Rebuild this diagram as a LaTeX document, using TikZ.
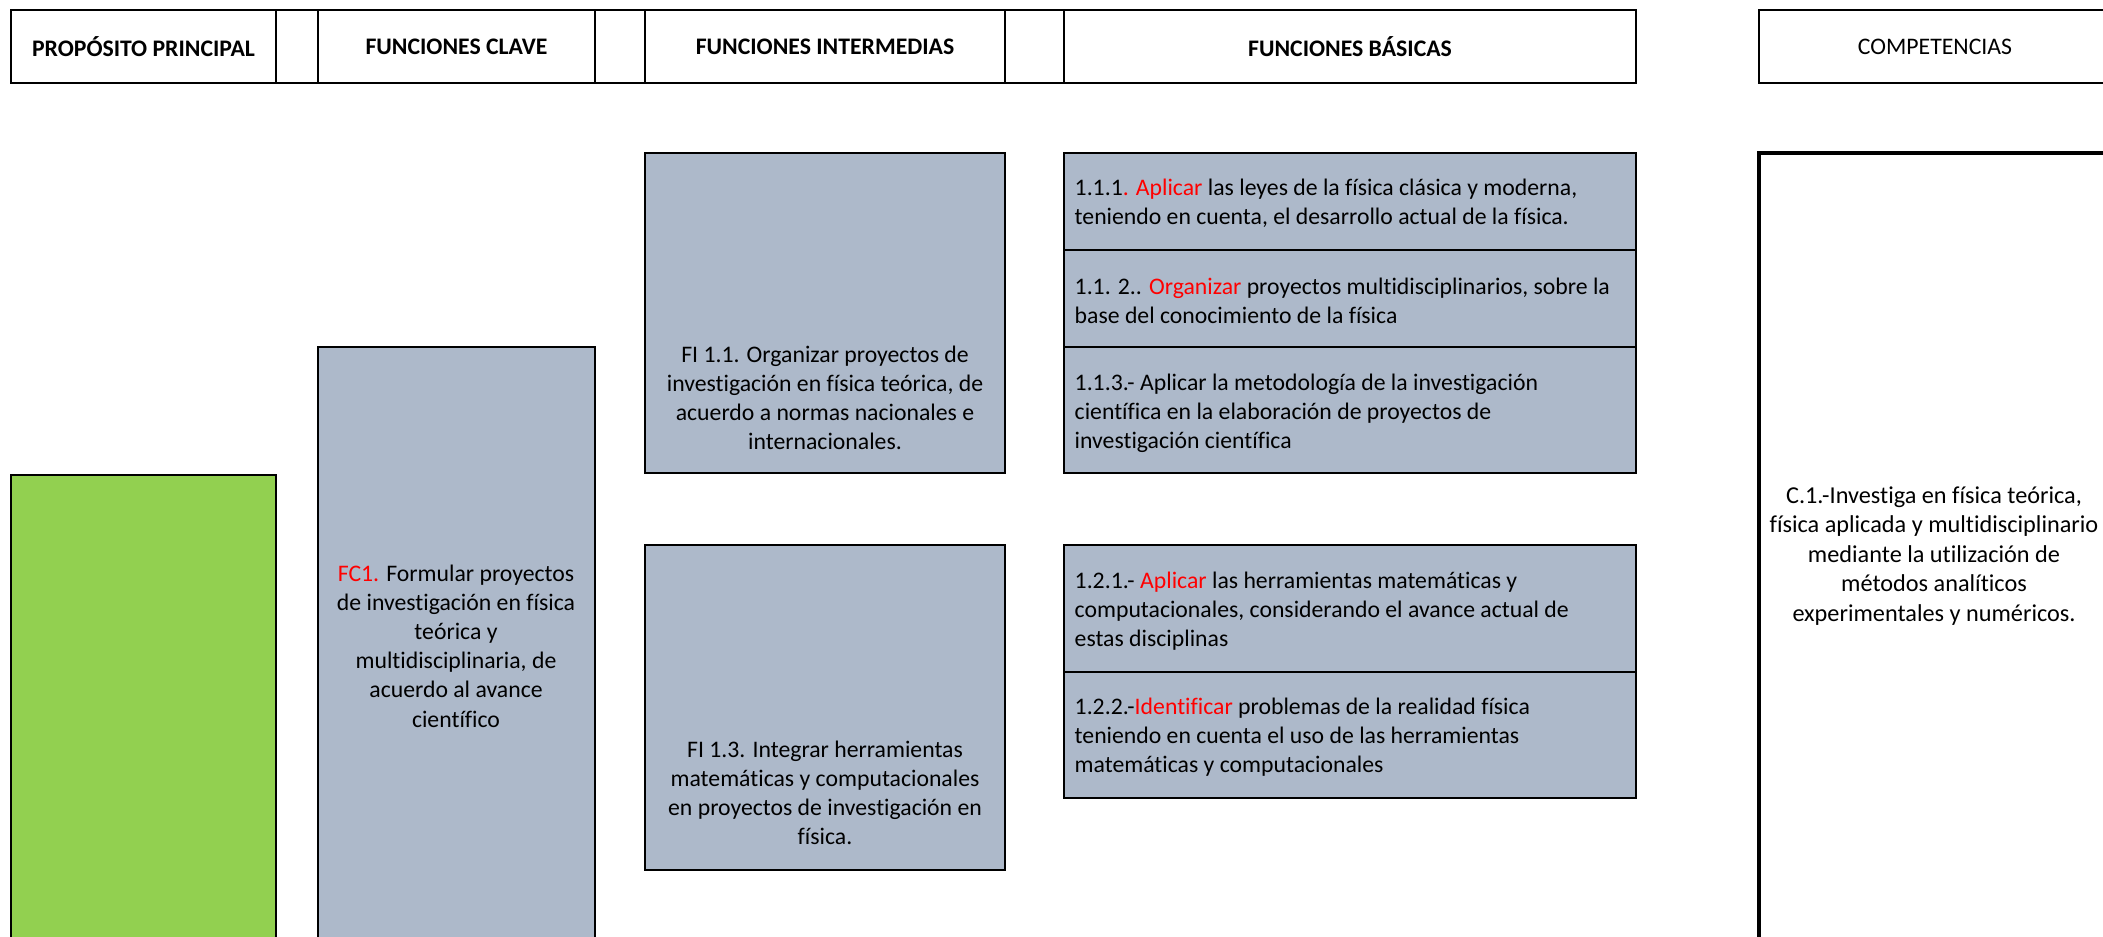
\documentclass[tikz,border=0pt]{standalone}
\usepackage{fontspec}
\setmainfont{Carlito}[Ligatures=NoCommon]
\usetikzlibrary{fit}
\definecolor{azulgris}{HTML}{ADB9CA}
\definecolor{verde}{HTML}{92D050}
\newcommand{\rj}[1]{\textcolor{red}{#1}}
\tikzset{
  celda/.style={draw,line width=0.8pt,inner sep=0pt,outer sep=0pt},
  fina/.style={celda,line width=0.45pt},
  caja/.style={celda,fill=azulgris},
  txt/.style={font=\fontsize{6.75}{8.3}\selectfont,inner sep=0pt,align=center},
  txtizq/.style={txt,align=left,anchor=west},
  titulo/.style={txt,font=\fontsize{6.75}{8.3}\selectfont\bfseries}
}

\begin{document}
\begin{tikzpicture}[x=0.01cm,y=-0.01cm]
\useasboundingbox (0,0) rectangle (2103,937);
\clip (0,0) rectangle (2103,937);
\node[celda,fit={(11,10) (276,83)}] (h1) {};
\node[celda,fit={(276,10) (318,83)}] (h2) {};
\node[celda,fit={(318,10) (595,83)}] (h3) {};
\node[celda,fit={(595,10) (645,83)}] (h4) {};
\node[celda,fit={(645,10) (1005,83)}] (h5) {};
\node[celda,fit={(1005,10) (1064,83)}] (h6) {};
\node[celda,fit={(1064,10) (1636,83)}] (h7) {};
\node[celda,fit={(1759,10) (2115,83)}] (h8) {};
\node[titulo] at (h1) {PROPÓSITO PRINCIPAL};
\node[titulo] at (h3) {FUNCIONES CLAVE};
\node[titulo] at (h5) {FUNCIONES INTERMEDIAS};
\node[titulo] at (h7) {FUNCIONES BÁSICAS};
\node[txt] at (1935,47) {COMPETENCIAS};

\node[celda,fill=verde,fit={(11,475) (276,960)}] (pp) {};
\node[caja,fit={(318,347) (595,960)}] (fc1) {};
\node[caja,fit={(645,153) (1005,473)}] (fi11) {};
\node[caja,fit={(645,545) (1005,870)}] (fi13) {};
\node[caja,fina,fit={(1064,153) (1636,250)}] (fb111) {};
\node[caja,fina,fit={(1064,250) (1636,347)}] (fb112) {};
\node[caja,fina,fit={(1064,347) (1636,473)}] (fb113) {};
\node[celda,fit=(fb111) (fb113)] (fbg1) {};
\node[caja,fit={(1064,545) (1636,672)}] (fb121) {};
\node[caja,fit={(1064,672) (1636,798)}] (fb122) {};
\node[celda,line width=1pt,fit={(1759,153) (2120,960)}] (c1) {};

\node[txt] (fc1t) at (456,646) {\rj{FC1.} Formular proyectos\\de investigación en física\\teórica y\\multidisciplinaria, de\\acuerdo al avance\\científico};
\node[txt] (fi11t) at (825,398) {FI 1.1. Organizar proyectos de\\investigación en física teórica, de\\acuerdo a normas nacionales e\\internacionales.};
\node[txt] (fi13t) at (825,793) {FI 1.3. Integrar herramientas\\matemáticas y computacionales\\en proyectos de investigación en\\física.};
\node[txtizq] (fb111t) at (1074,203) {1.1.1\rj{. Aplicar} las leyes de la física clásica y moderna,\\teniendo en cuenta, el desarrollo actual de la física.};
\node[txtizq] (fb112t) at (1074,301) {1.1. 2.. \rj{Organizar} proyectos multidisciplinarios, sobre la\\base del conocimiento de la física};
\node[txtizq] (fb113t) at (1074,413) {1.1.3.- Aplicar la metodología de la investigación\\científica en la elaboración de proyectos de\\investigación científica};
\node[txtizq] (fb121t) at (1074,611) {1.2.1.- \rj{Aplicar} las herramientas matemáticas y\\computacionales, considerando el avance actual de\\estas disciplinas};
\node[txtizq] (fb122t) at (1074,737) {1.2.2.-\rj{Identificar} problemas de la realidad física\\teniendo en cuenta el uso de las herramientas\\matemáticas y computacionales};
\node[txt,font=\fontsize{6.9}{8.4}\selectfont] (c1t) at (1934,556) {C.1.-Investiga en física teórica,\\física aplicada y multidisciplinario\\mediante la utilización de\\métodos analíticos\\experimentales y numéricos.};
\end{tikzpicture}
\end{document}
